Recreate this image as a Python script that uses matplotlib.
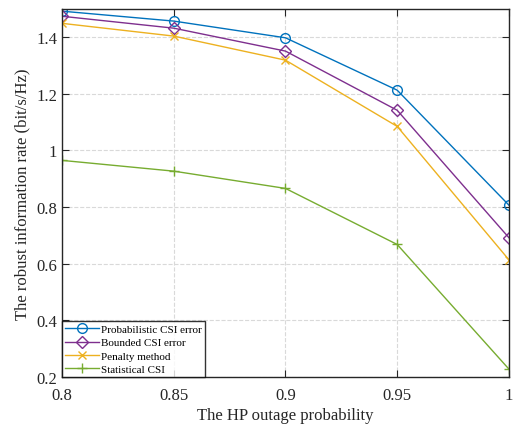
import numpy as np
import matplotlib
matplotlib.use("Agg")
import matplotlib.pyplot as plt

plt.rcParams['font.family'] = ['Liberation Serif', 'DejaVu Serif']

# outage probability
x = [0.8, 0.85, 0.9, 0.95, 1.0]

prob_csi = [1.492, 1.457, 1.398, 1.213, 0.807]
bounded_csi = [1.474, 1.432, 1.351, 1.142, 0.692]
penalty = [1.449, 1.404, 1.319, 1.085, 0.614]
statistical = [0.965, 0.927, 0.866, 0.668, 0.228]

labels = ["Probabilistic CSI error", "Bounded CSI error", "Penalty method", "Statistical CSI"]
xticks = [0.8, 0.85, 0.9, 0.95, 1]
xtick_labels = ["0.8", "0.85", "0.9", "0.95", "1"]
yticks = [0.2, 0.4, 0.6, 0.8, 1.0, 1.2, 1.4]
ytick_labels = ["0.2", "0.4", "0.6", "0.8", "1", "1.2", "1.4"]

fig = plt.figure(figsize=(5.13, 4.31), dpi=100)
ax = fig.add_axes([0.121, 0.123, 0.871, 0.854])

ax.plot(x, prob_csi, color='#0072BD', marker='o', ms=7, mfc='none', lw=1, label=labels[0])
ax.plot(x, bounded_csi, color='#7E2F8E', marker='D', ms=6, mfc='none', lw=1, label=labels[1])
ax.plot(x, penalty, color='#EDB120', marker='x', ms=6, lw=1, label=labels[2])
ax.plot(x, statistical, color='#77AC30', marker='+', ms=7, lw=1, label=labels[3])

ax.set_xlim(0.8, 1.0)
ax.set_ylim(0.2, 1.5)
ax.set_xticks(xticks)
ax.set_xticklabels(xtick_labels)
ax.set_yticks(yticks)
ax.set_yticklabels(ytick_labels)
ax.tick_params(direction='in', labelsize=12, colors='#262626', top=True, right=True, length=5)
ax.tick_params(axis='x', pad=7)
ax.grid(True, ls='--', color='#d9d9d9', lw=0.8)
for s in ax.spines.values():
    s.set_color('#262626')
    s.set_linewidth(1)

ax.set_xlabel("The HP outage probability", fontsize=12, color='#262626', labelpad=3)
ax.set_ylabel("The robust information rate (bit/s/Hz)", fontsize=12, color='#262626')

leg = ax.legend(loc='lower left', fontsize=8, frameon=True, fancybox=False,
                edgecolor='black', borderpad=0.3, labelspacing=0.3,
                handlelength=3.0, handletextpad=0.2, borderaxespad=0.0)
leg.get_frame().set_linewidth(1)

fig.savefig("out.png", dpi=100)
